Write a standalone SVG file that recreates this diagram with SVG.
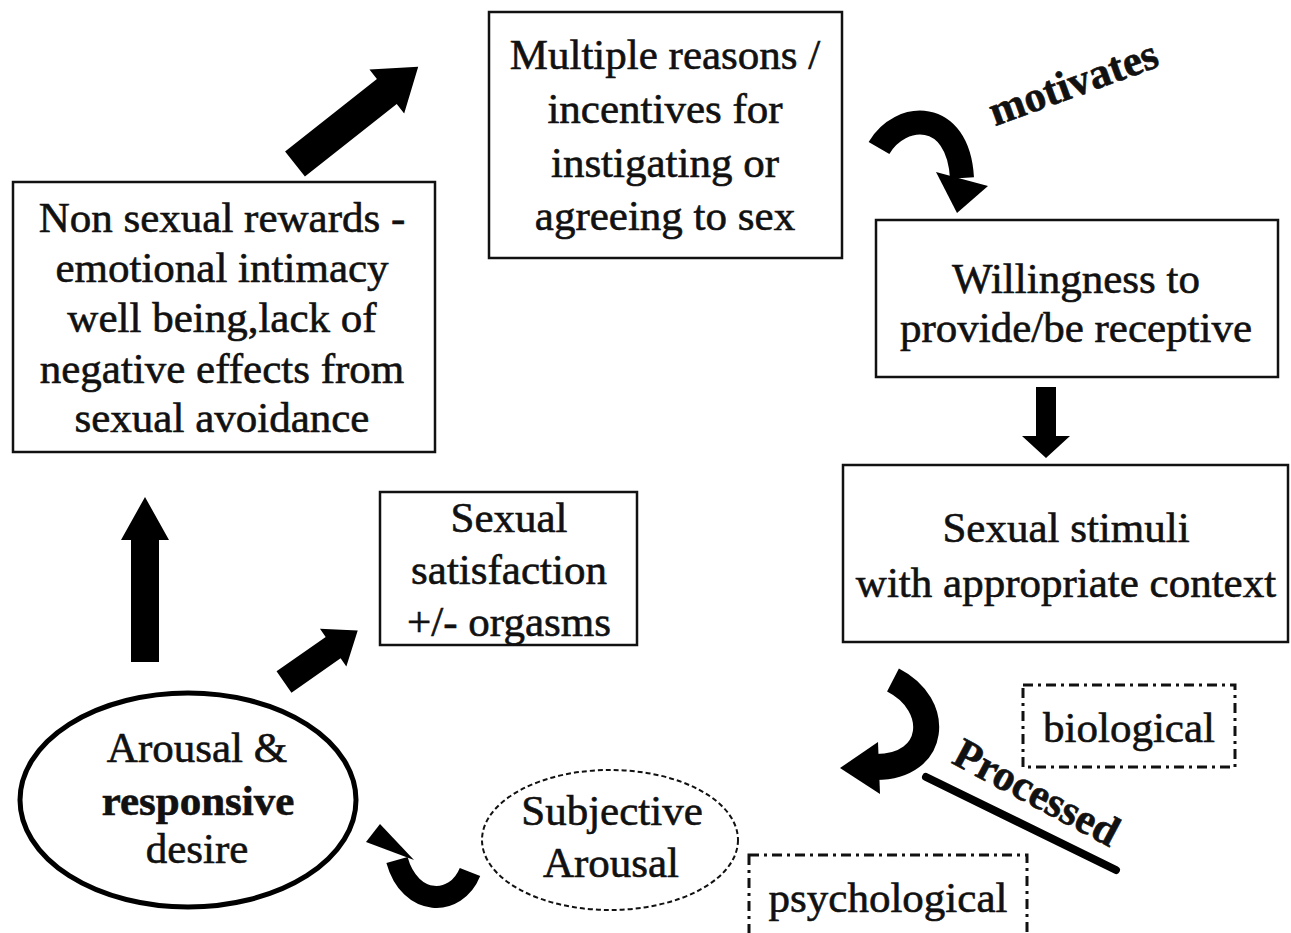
<svg xmlns="http://www.w3.org/2000/svg" width="1291" height="933" viewBox="0 0 1291 933">
<style>
.box{fill:#fff;stroke:#111;stroke-width:2.5}
.dd{fill:#fff;stroke:#111;stroke-width:3;stroke-dasharray:10 5 3 5}
.t{font-family:"Liberation Serif","Times New Roman",serif;font-size:43px;fill:#111;stroke:#111;stroke-width:0.6;text-anchor:middle}
.b{font-weight:bold}
.arr{fill:#000}
.curve{fill:none;stroke:#000;stroke-linecap:butt}
</style>
<rect width="1291" height="933" fill="#fff"/>
<g id="connectors">
  <polygon class="arr" transform="translate(295,164) rotate(-38.3)" points="0,-16 117,-16 117,-28 157,0 117,28 117,16 0,16"/>
  <polygon class="arr" transform="translate(284,682) rotate(-35)" points="0,-13 60,-13 60,-23 90,0 60,23 60,13 0,13"/>
  <polygon class="arr" transform="translate(145,662) rotate(-90)" points="0,-14 122,-14 122,-24 165,0 122,24 122,14 0,14"/>
  <polygon class="arr" transform="translate(1046,387) rotate(90)" points="0,-10 49,-10 49,-24 71,0 49,24 49,10 0,10"/>
  <path class="curve" stroke-width="24" d="M 879,148 C 900,112 958,108 962,178"/>
  <polygon class="arr" points="936,172 988,186 957,213"/>
  <path class="curve" stroke-width="26" d="M 893,680 C 942,705 937,767 876,767"/>
  <polygon class="arr" points="878,742 880,794 840,768"/>
  <path class="curve" stroke-width="22" d="M 470,872 C 456,907 410,907 397,860"/>
  <polygon class="arr" points="366,842 414,860 380,824"/>
  <text class="t b" font-size="40" transform="translate(1078,96) rotate(-20)">motivates</text>
  <text class="t b" font-size="50" transform="translate(1030,805) rotate(28)">Processed</text>
  <line x1="926" y1="777" x2="1116" y2="870" stroke="#000" stroke-width="8" stroke-linecap="round"/>
</g>
<g id="n_reasons">
  <rect class="box" x="489" y="12" width="353" height="246"/>
  <text class="t" x="665" y="69">Multiple reasons /</text>
  <text class="t" x="665" y="123">incentives for</text>
  <text class="t" x="665" y="177">instigating or</text>
  <text class="t" x="665" y="230">agreeing to sex</text>
</g>
<g id="n_rewards">
  <rect class="box" x="13" y="182" width="422" height="270"/>
  <text class="t" x="222" y="232">Non sexual rewards -</text>
  <text class="t" x="222" y="282">emotional intimacy</text>
  <text class="t" x="222" y="332">well being,lack of</text>
  <text class="t" x="222" y="383">negative effects from</text>
  <text class="t" x="222" y="432">sexual avoidance</text>
</g>
<g id="n_willing">
  <rect class="box" x="876" y="220" width="402" height="157"/>
  <text class="t" x="1076" y="293">Willingness to</text>
  <text class="t" x="1076" y="342">provide/be receptive</text>
</g>
<g id="n_stimuli">
  <rect class="box" x="843" y="465" width="445" height="177"/>
  <text class="t" x="1066" y="542">Sexual stimuli</text>
  <text class="t" x="1066" y="597">with appropriate context</text>
</g>
<g id="n_satisfaction">
  <rect class="box" x="380" y="492" width="257" height="153"/>
  <text class="t" x="509" y="532">Sexual</text>
  <text class="t" x="509" y="584">satisfaction</text>
  <text class="t" x="509" y="636">+/- orgasms</text>
</g>
<g id="n_biological">
  <rect class="dd" x="1023" y="685" width="212" height="82"/>
  <text class="t" x="1129" y="742">biological</text>
</g>
<g id="n_psychological">
  <rect class="dd" x="749" y="855" width="278" height="95"/>
  <text class="t" x="888" y="912">psychological</text>
</g>
<g id="n_arousal">
  <ellipse cx="188" cy="800" rx="168" ry="107" fill="#fff" stroke="#000" stroke-width="5"/>
  <text class="t" x="197" y="762">Arousal &amp;</text>
  <text class="t b" x="198" y="815">responsive</text>
  <text class="t" x="197" y="863">desire</text>
</g>
<g id="n_subjective">
  <ellipse cx="610" cy="840" rx="128" ry="70" fill="#fff" stroke="#111" stroke-width="2" stroke-dasharray="5 3"/>
  <text class="t" x="612" y="825">Subjective</text>
  <text class="t" x="611" y="877">Arousal</text>
</g>
</svg>
